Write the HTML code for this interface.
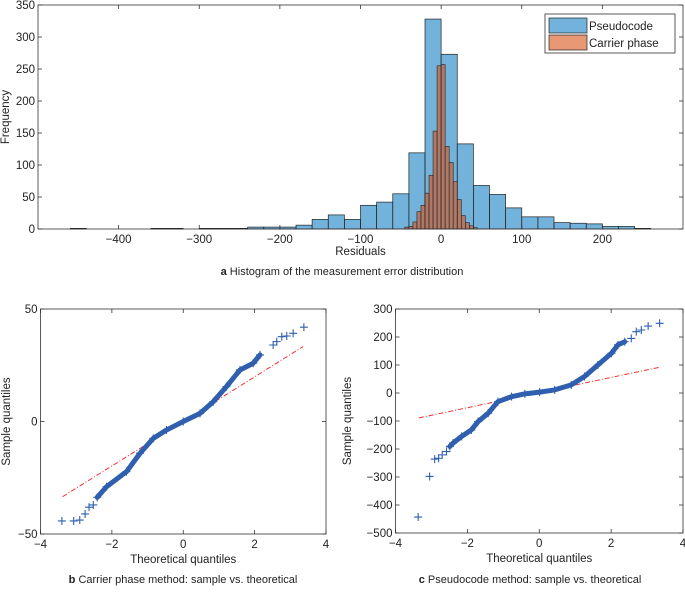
<!DOCTYPE html>
<html><head><meta charset="utf-8"><style>
body{margin:0;background:#fff;width:685px;height:590px;overflow:hidden}
svg text{font-family:"Liberation Sans",Arial,sans-serif;fill:#222}
</style></head><body>
<svg id="fig" width="685" height="590" xmlns="http://www.w3.org/2000/svg">
<g id="ha"></g>
<g id="qb"></g>
<g id="qc"></g>
<text x="342" y="275" font-size="11" text-anchor="middle"><tspan font-weight="bold">a</tspan> Histogram of the measurement error distribution</text>
<text x="183" y="583" font-size="11" text-anchor="middle"><tspan font-weight="bold">b</tspan> Carrier phase method: sample vs. theoretical</text>
<text x="530" y="583" font-size="11" text-anchor="middle"><tspan font-weight="bold">c</tspan> Pseudocode method: sample vs. theoretical</text>
</svg>
<script>
// Histogram data
const pcodeEdges = [-460,-360,-340,-300,-280,-260,-240,-220,-200,-180,-160,-140,-120,-100,-80,-60,-40,-20,0,20,40,60,80,100,120,140,160,180,200,220,240];
const pcodeCounts = [1,1,1,1,1,1,3,3,3,6,15,22,15,37,42,55,119,328,273,133,68,54,33,19,19,10,9,8,4,4,1];
const carrierStarts = [-45,-40,-35,-30,-25,-20,-15,-10,-5,0,5,10,15,20,25,30,35,40];
const carrierCounts = [3,4,11,27,37,56,84,153,255,257,129,104,74,46,21,10,5,2];
const histXTicks = [-400,-300,-200,-100,0,100,200];
const histYTicks = [0,50,100,150,200,250,300,350];
// QQ carrier phase
const cpTheo = [-3.40,-3.07,-2.90,-2.75,-2.64,-2.52,-2.41,-2.15,-1.59,-1.21,-0.84,-0.47,0,0.47,0.84,1.21,1.59,1.96,2.15,2.52,2.62,2.76,2.90,3.08,3.38];
const cpSample = [-44.2,-44.2,-43.8,-41.1,-38.1,-37.1,-33.7,-29.0,-22.3,-14.1,-7.5,-3.8,0,3.6,8.8,15.5,22.9,25.9,29.6,34.0,35.5,37.7,38.0,39.2,41.9];
const cpLineX = [-3.38,3.36];
const cpLineY = [-33.4,33.3];
// QQ pseudocode
const pcTheo = [-3.37,-3.05,-2.91,-2.80,-2.70,-2.58,-2.49,-2.40,-2.16,-1.89,-1.70,-1.42,-1.15,-0.77,-0.40,0.01,0.43,0.89,1.26,1.63,2.01,2.19,2.38,2.56,2.70,2.84,3.03,3.35];
const pcSample = [-443,-298,-236,-233,-221,-209,-191,-179,-155,-132,-102,-72,-31,-13,-3,3,11,29,59,100,142,172,183,195,219,225,239,249];
const pcLineX = [-3.35,3.35];
const pcLineY = [-89,92];
const qqXTicks = [-4,-2,0,2,4];
const cpYTicks = [-50,0,50];
const pcYTicks = [-500,-400,-300,-200,-100,0,100,200,300];

const NS='http://www.w3.org/2000/svg';
function mk(p,t,a){const e=document.createElementNS(NS,t);for(const k in a)e.setAttribute(k,a[k]);p.appendChild(e);return e;}
function axes(g,L,R,T,B,sx,sy,xt,yt,xl,yl,ylx,xlOff){
  mk(g,'rect',{x:L,y:T,width:R-L,height:B-T,fill:'none',stroke:'#333','stroke-width':0.8});
  xt.forEach(v=>{const x=sx(v);
    const t=mk(g,'line',{x1:x,x2:x,y1:B,y2:B-4,stroke:'#333','stroke-width':0.8});
    
    mk(g,'line',{x1:x,x2:x,y1:T,y2:T+4,stroke:'#333','stroke-width':0.8});
    const l=mk(g,'text',{x:x,y:B+14,'font-size':11.5,'text-anchor':'middle'});l.textContent=(v<0?'\u2212'+(-v):v);
    });
  yt.forEach(v=>{const y=sy(v);
    mk(g,'line',{x1:L,x2:L+4,y1:y,y2:y,stroke:'#333','stroke-width':0.8});
    mk(g,'line',{x1:R,x2:R-4,y1:y,y2:y,stroke:'#333','stroke-width':0.8});
    const l=mk(g,'text',{x:L-3,y:y+4,'font-size':11.5,'text-anchor':'end'});l.textContent=(v<0?'\u2212'+(-v):v);
    });
  const a=mk(g,'text',{x:(L+R)/2,y:B+xlOff,'font-size':11.5,'text-anchor':'middle'});a.textContent=xl;
  
  const b=mk(g,'text',{x:ylx,y:(T+B)/2,'font-size':11.5,'text-anchor':'middle',transform:`rotate(-90 ${ylx} ${(T+B)/2})`});b.textContent=yl;
  
}
// Histogram
(function(){
  const g=document.getElementById('ha');
  const L=38,R=683,T=5,B=229;
  const sx=v=>L+(v+500)/800*(R-L), sy=v=>B-v/350*(B-T);
  pcodeEdges.forEach((e,i)=>{
    const r=mk(g,'rect',{x:sx(e),y:sy(pcodeCounts[i]),width:sx(e+20)-sx(e),height:B-sy(pcodeCounts[i]),fill:'rgb(0,114,189)','fill-opacity':0.55,stroke:'#222','stroke-width':0.7});
    });
  carrierStarts.forEach((e,i)=>{
    const r=mk(g,'rect',{x:sx(e),y:sy(carrierCounts[i]),width:sx(e+5)-sx(e),height:B-sy(carrierCounts[i]),fill:'rgb(217,83,25)','fill-opacity':0.6,stroke:'#222','stroke-width':0.6});
    });
  axes(g,L,R,T,B,sx,sy,histXTicks,histYTicks,'Residuals','Frequency',9,26);
  const lg=mk(g,'g',{});
  mk(lg,'rect',{x:545,y:14,width:130,height:39,fill:'#fff',stroke:'#333','stroke-width':0.8});
  mk(lg,'rect',{x:549,y:18,width:38,height:15,fill:'rgb(0,114,189)','fill-opacity':0.55,stroke:'#222','stroke-width':0.7});
  mk(lg,'rect',{x:549,y:35,width:38,height:15,fill:'rgb(217,83,25)','fill-opacity':0.6,stroke:'#222','stroke-width':0.7});
  let t=mk(lg,'text',{x:589,y:30,'font-size':11.5});t.textContent='Pseudocode';
  
  t=mk(lg,'text',{x:589,y:47,'font-size':11.5});t.textContent='Carrier phase';
  
})();
function qq(id,L,R,T,B,ymin,ymax,xs,ys,lx,ly,yt,ylx){
  const g=document.getElementById(id);
  const sx=v=>L+(v+4)/8*(R-L), sy=v=>B-(v-ymin)/(ymax-ymin)*(B-T);
  const ln=mk(g,'line',{x1:sx(lx[0]),y1:sy(ly[0]),x2:sx(lx[1]),y2:sy(ly[1]),stroke:'#e33','stroke-width':1,'stroke-dasharray':'5,2,1,2'});
  
  const inner=xs.map((x,i)=>[x,ys[i]]).filter(p=>p[0]>-2.5&&p[0]<2.5);
  const pl=mk(g,'polyline',{points:inner.map(p=>sx(p[0])+','+sy(p[1])).join(' '),fill:'none',stroke:'#2f5fae','stroke-width':5,'stroke-linejoin':'round','stroke-linecap':'round'});
  
  xs.forEach((x,i)=>{const cx=sx(x),cy=sy(ys[i]);
    const p=mk(g,'path',{d:`M${cx-4},${cy}h8M${cx},${cy-4}v8`,stroke:'#2f5fae','stroke-width':1.1});
    });
  axes(g,L,R,T,B,sx,sy,qqXTicks,yt,'Theoretical quantiles','Sample quantiles',ylx,29);
}
qq('qb',40.5,326,309,534,-50,50,cpTheo,cpSample,cpLineX,cpLineY,cpYTicks,10);
qq('qc',395.5,683,309,533,-500,300,pcTheo,pcSample,pcLineX,pcLineY,pcYTicks,351);
</script>
</body></html>
